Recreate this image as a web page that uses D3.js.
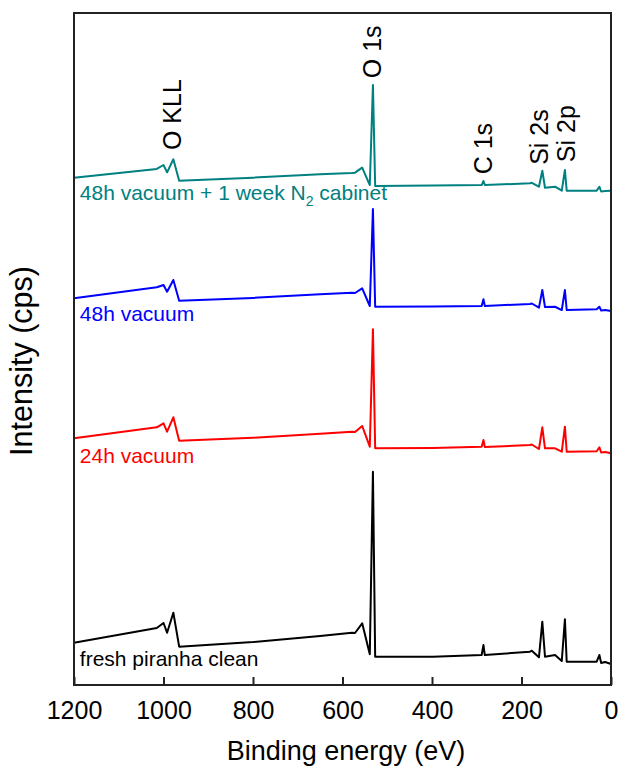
<!DOCTYPE html>
<html>
<head>
<meta charset="utf-8">
<script src="https://cdn.jsdelivr.net/npm/d3@7"></script>
<style>
  body { margin: 0; background: #fff; }
  svg { display: block; font-family: "Liberation Sans", Arial, sans-serif; }
</style>
</head>
<body>
<svg id="chart"></svg>
<script>
const width = 622;
const height = 767;
const margin = { top: 13, right: 11, bottom: 82, left: 74 };

// binding energy grid (eV), shared by all spectra
const energies = [1200, 1015, 1000, 992, 978, 965, 800, 650, 579, 572, 556, 539, 532, 527, 398,
  289, 285, 282, 181, 177, 161, 153.5, 147.5, 125, 110, 103, 99, 32, 26, 22, 13, 0];

// intensity (arb. units, offset stacked as plotted)
const freshPiranha = [6.29, 8.48, 9.23, 7.78, 10.76, 5.70, 6.40, 7.30, 7.78, 7.74, 9.18, 4.57, 31.74, 4.21, 4.21,
  4.46, 5.95, 4.46, 4.96, 5.10, 4.12, 9.42, 4.21, 4.46, 3.57, 9.78, 3.47, 3.47, 4.46, 3.27, 3.42, 3.13];
const vacuum24h = [36.71, 38.35, 38.94, 37.69, 39.84, 36.35, 36.80, 37.40, 37.69, 37.65, 38.54, 35.46, 52.93, 35.22, 35.27,
  35.46, 36.46, 35.42, 35.71, 35.79, 35.12, 38.35, 35.22, 35.22, 34.72, 38.44, 34.72, 34.78, 35.37, 34.60, 34.67, 34.48];
const vacuum48h = [57.54, 59.18, 59.52, 58.53, 60.27, 57.19, 57.60, 58.15, 58.38, 58.33, 59.03, 56.40, 70.83, 56.29, 56.32,
  56.40, 57.40, 56.40, 56.70, 56.77, 56.15, 58.78, 56.25, 56.29, 55.80, 58.78, 55.80, 55.91, 56.29, 55.73, 55.80, 55.65];
const vacuumN2 = [75.49, 76.79, 77.38, 76.29, 78.23, 75.04, 75.50, 76.00, 76.19, 76.24, 76.98, 74.40, 89.29, 74.26, 74.33,
  74.40, 75.00, 74.40, 74.66, 74.73, 74.15, 76.53, 74.00, 74.15, 73.56, 76.64, 73.56, 73.56, 74.15, 73.44, 73.51, 73.56];

const seriesNames = ["fresh piranha clean", "24h vacuum", "48h vacuum", "48h vacuum + 1 week N2 cabinet"];
const seriesColors = ["#000000", "#ff0000", "#0000ff", "#008080"];
const seriesValues = [freshPiranha, vacuum24h, vacuum48h, vacuumN2];
// label baseline intensity (same units)
const labelLevels = [2.78, 33.08, 54.17, 72.1];

const xTicks = [1200, 1000, 800, 600, 400, 200, 0];

// peak annotations: text, energy, start level (intensity)
const peakLabels = ["O KLL", "O 1s", "C 1s", "Si 2s", "Si 2p"];
const peakEnergies = [962, 513, 266, 140, 80];
const peakLevels = [79.6, 90.3, 76.0, 77.4, 77.8];

const svg = d3.select("#chart").attr("width", width).attr("height", height);

const x = d3.scaleLinear().domain([1200, 0]).range([margin.left, width - margin.right]);
const y = d3.scaleLinear().domain([0, 100]).range([height - margin.bottom, margin.top]);

const line = d3.line()
  .x((d) => x(d[0]))
  .y((d) => y(d[1]));

seriesValues.forEach((vals, i) => {
  svg.append("path")
    .datum(energies.map((e, j) => [e, vals[j]]))
    .attr("fill", "none")
    .attr("stroke", seriesColors[i])
    .attr("stroke-width", 2)
    .attr("stroke-linejoin", "round")
    .attr("d", line);
});

// series labels
seriesNames.forEach((name, i) => {
  const t = svg.append("text")
    .attr("x", x(1187))
    .attr("y", y(labelLevels[i]))
    .attr("fill", seriesColors[i])
    .attr("font-size", 21);
  if (name.includes("N2")) {
    t.append("tspan").text("48h vacuum + 1 week N");
    t.append("tspan").text("2").attr("font-size", 14).attr("dy", 6);
    t.append("tspan").text(" cabinet").attr("dy", -6);
  } else {
    t.text(name);
  }
});

// peak labels (rotated)
peakLabels.forEach((lab, i) => {
  svg.append("text")
    .attr("transform", `translate(${x(peakEnergies[i])},${y(peakLevels[i])}) rotate(-90)`)
    .attr("font-size", 25)
    .attr("fill", "#000")
    .text(lab);
});

// frame
svg.append("rect")
  .attr("x", margin.left)
  .attr("y", margin.top)
  .attr("width", width - margin.left - margin.right)
  .attr("height", height - margin.top - margin.bottom)
  .attr("fill", "none")
  .attr("stroke", "#222")
  .attr("stroke-width", 2);

// bottom axis with inward ticks
const xAxis = d3.axisBottom(x).tickValues(xTicks).tickFormat(d3.format("d"))
  .tickSizeInner(-8).tickSizeOuter(0).tickPadding(16);
const gx = svg.append("g")
  .attr("transform", `translate(0,${height - margin.bottom})`)
  .call(xAxis);
gx.select(".domain").remove();
gx.selectAll(".tick line").attr("stroke", "#222").attr("stroke-width", 2);
gx.selectAll(".tick text")
  .attr("font-size", 25)
  .attr("font-family", "Liberation Sans, Arial, sans-serif")
  .attr("fill", "#000");

svg.append("text")
  .attr("x", 346)
  .attr("y", 760)
  .attr("text-anchor", "middle")
  .attr("font-size", 27)
  .text("Binding energy (eV)");

svg.append("text")
  .attr("transform", `translate(32,${y(50) + 12}) rotate(-90)`)
  .attr("text-anchor", "middle")
  .attr("font-size", 30.5)
  .text("Intensity (cps)");
</script>
</body>
</html>
